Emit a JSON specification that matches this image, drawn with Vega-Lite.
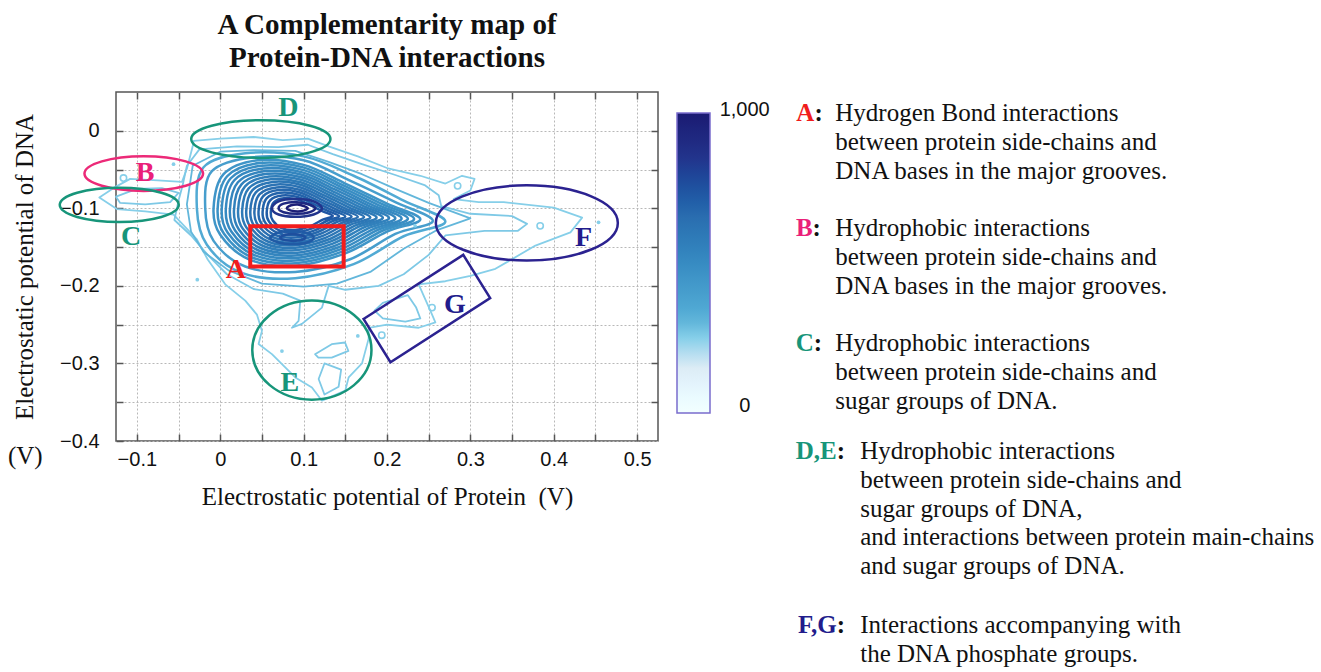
{
  "$schema": "https://vega.github.io/schema/vega-lite/v6.json",
  "width": 542,
  "height": 349,
  "autosize": "none",
  "padding": {"left": 116, "top": 92, "right": 663, "bottom": 231},
  "background": "white",
  "title": {
    "text": ["A Complementarity map of", "Protein-DNA interactions"],
    "font": "Liberation Serif", "fontSize": 29, "fontWeight": "bold", "lineHeight": 33,
    "anchor": "middle", "frame": "group", "offset": 18, "color": "#111"
  },
  "config": {"view": {"stroke": "#555", "strokeWidth": 1.5}},
  "datasets": {
    "outer": [
      {"c":"o1","l":250,"i":0,"x":-0.032,"y":-0.013},
      {"c":"o1","l":250,"i":1,"x":0.0,"y":-0.01},
      {"c":"o1","l":250,"i":2,"x":0.04,"y":-0.008},
      {"c":"o1","l":250,"i":3,"x":0.075,"y":-0.012},
      {"c":"o1","l":250,"i":4,"x":0.105,"y":-0.01},
      {"c":"o1","l":250,"i":5,"x":0.13,"y":-0.02},
      {"c":"o1","l":250,"i":6,"x":0.165,"y":-0.033},
      {"c":"o1","l":250,"i":7,"x":0.2,"y":-0.048},
      {"c":"o1","l":250,"i":8,"x":0.24,"y":-0.058},
      {"c":"o1","l":250,"i":9,"x":0.27,"y":-0.068},
      {"c":"o1","l":250,"i":10,"x":0.29,"y":-0.058},
      {"c":"o1","l":250,"i":11,"x":0.305,"y":-0.062},
      {"c":"o1","l":250,"i":12,"x":0.3,"y":-0.077},
      {"c":"o1","l":250,"i":13,"x":0.28,"y":-0.088},
      {"c":"o1","l":250,"i":14,"x":0.31,"y":-0.092},
      {"c":"o1","l":250,"i":15,"x":0.34,"y":-0.092},
      {"c":"o1","l":250,"i":16,"x":0.4,"y":-0.099},
      {"c":"o1","l":250,"i":17,"x":0.434,"y":-0.112},
      {"c":"o1","l":250,"i":18,"x":0.42,"y":-0.131},
      {"c":"o1","l":250,"i":19,"x":0.378,"y":-0.148},
      {"c":"o1","l":250,"i":20,"x":0.33,"y":-0.178},
      {"c":"o1","l":250,"i":21,"x":0.3,"y":-0.187},
      {"c":"o1","l":250,"i":22,"x":0.27,"y":-0.194},
      {"c":"o1","l":250,"i":23,"x":0.238,"y":-0.198},
      {"c":"o1","l":250,"i":24,"x":0.245,"y":-0.215},
      {"c":"o1","l":250,"i":25,"x":0.252,"y":-0.232},
      {"c":"o1","l":250,"i":26,"x":0.258,"y":-0.247},
      {"c":"o1","l":250,"i":27,"x":0.238,"y":-0.254},
      {"c":"o1","l":250,"i":28,"x":0.2,"y":-0.25},
      {"c":"o1","l":250,"i":29,"x":0.178,"y":-0.254},
      {"c":"o1","l":250,"i":30,"x":0.178,"y":-0.268},
      {"c":"o1","l":250,"i":31,"x":0.17,"y":-0.3},
      {"c":"o1","l":250,"i":32,"x":0.154,"y":-0.318},
      {"c":"o1","l":250,"i":33,"x":0.15,"y":-0.335},
      {"c":"o1","l":250,"i":34,"x":0.122,"y":-0.348},
      {"c":"o1","l":250,"i":35,"x":0.11,"y":-0.331},
      {"c":"o1","l":250,"i":36,"x":0.09,"y":-0.318},
      {"c":"o1","l":250,"i":37,"x":0.062,"y":-0.288},
      {"c":"o1","l":250,"i":38,"x":0.046,"y":-0.275},
      {"c":"o1","l":250,"i":39,"x":0.05,"y":-0.258},
      {"c":"o1","l":250,"i":40,"x":0.044,"y":-0.237},
      {"c":"o1","l":250,"i":41,"x":0.03,"y":-0.219},
      {"c":"o1","l":250,"i":42,"x":0.006,"y":-0.198},
      {"c":"o1","l":250,"i":43,"x":-0.015,"y":-0.166},
      {"c":"o1","l":250,"i":44,"x":-0.028,"y":-0.14},
      {"c":"o1","l":250,"i":45,"x":-0.056,"y":-0.108},
      {"c":"o1","l":250,"i":46,"x":-0.09,"y":-0.104},
      {"c":"o1","l":250,"i":47,"x":-0.124,"y":-0.101},
      {"c":"o1","l":250,"i":48,"x":-0.145,"y":-0.086},
      {"c":"o1","l":250,"i":49,"x":-0.125,"y":-0.072},
      {"c":"o1","l":250,"i":50,"x":-0.108,"y":-0.062},
      {"c":"o1","l":250,"i":51,"x":-0.075,"y":-0.064},
      {"c":"o1","l":250,"i":52,"x":-0.046,"y":-0.066},
      {"c":"o1","l":250,"i":53,"x":-0.04,"y":-0.049},
      {"c":"o1","l":250,"i":54,"x":-0.033,"y":-0.02},
      {"c":"o2","l":262,"i":0,"x":-0.025,"y":-0.024},
      {"c":"o2","l":262,"i":1,"x":0.02,"y":-0.02},
      {"c":"o2","l":262,"i":2,"x":0.07,"y":-0.021},
      {"c":"o2","l":262,"i":3,"x":0.105,"y":-0.018},
      {"c":"o2","l":262,"i":4,"x":0.135,"y":-0.03},
      {"c":"o2","l":262,"i":5,"x":0.17,"y":-0.043},
      {"c":"o2","l":262,"i":6,"x":0.21,"y":-0.057},
      {"c":"o2","l":262,"i":7,"x":0.245,"y":-0.07},
      {"c":"o2","l":262,"i":8,"x":0.262,"y":-0.083},
      {"c":"o2","l":262,"i":9,"x":0.265,"y":-0.097},
      {"c":"o2","l":262,"i":10,"x":0.3,"y":-0.107},
      {"c":"o2","l":262,"i":11,"x":0.35,"y":-0.11},
      {"c":"o2","l":262,"i":12,"x":0.368,"y":-0.12},
      {"c":"o2","l":262,"i":13,"x":0.357,"y":-0.129},
      {"c":"o2","l":262,"i":14,"x":0.317,"y":-0.129},
      {"c":"o2","l":262,"i":15,"x":0.27,"y":-0.135},
      {"c":"o2","l":262,"i":16,"x":0.25,"y":-0.16},
      {"c":"o2","l":262,"i":17,"x":0.22,"y":-0.185},
      {"c":"o2","l":262,"i":18,"x":0.19,"y":-0.2},
      {"c":"o2","l":262,"i":19,"x":0.15,"y":-0.205},
      {"c":"o2","l":262,"i":20,"x":0.13,"y":-0.2},
      {"c":"o2","l":262,"i":21,"x":0.122,"y":-0.228},
      {"c":"o2","l":262,"i":22,"x":0.098,"y":-0.249},
      {"c":"o2","l":262,"i":23,"x":0.086,"y":-0.254},
      {"c":"o2","l":262,"i":24,"x":0.094,"y":-0.245},
      {"c":"o2","l":262,"i":25,"x":0.096,"y":-0.219},
      {"c":"o2","l":262,"i":26,"x":0.075,"y":-0.21},
      {"c":"o2","l":262,"i":27,"x":0.04,"y":-0.204},
      {"c":"o2","l":262,"i":28,"x":0.008,"y":-0.185},
      {"c":"o2","l":262,"i":29,"x":-0.015,"y":-0.16},
      {"c":"o2","l":262,"i":30,"x":-0.035,"y":-0.135},
      {"c":"o2","l":262,"i":31,"x":-0.055,"y":-0.115},
      {"c":"o2","l":262,"i":32,"x":-0.05,"y":-0.09},
      {"c":"o2","l":262,"i":33,"x":-0.045,"y":-0.07},
      {"c":"o2","l":262,"i":34,"x":-0.04,"y":-0.045},
      {"c":"m3","l":300,"i":0,"x":-0.04,"y":-0.095},
      {"c":"m3","l":300,"i":1,"x":-0.033,"y":-0.045},
      {"c":"m3","l":300,"i":2,"x":0.0,"y":-0.027},
      {"c":"m3","l":300,"i":3,"x":0.04,"y":-0.025},
      {"c":"m3","l":300,"i":4,"x":0.09,"y":-0.026},
      {"c":"m3","l":300,"i":5,"x":0.13,"y":-0.04},
      {"c":"m3","l":300,"i":6,"x":0.17,"y":-0.056},
      {"c":"m3","l":300,"i":7,"x":0.21,"y":-0.075},
      {"c":"m3","l":300,"i":8,"x":0.25,"y":-0.093},
      {"c":"m3","l":300,"i":9,"x":0.3,"y":-0.113},
      {"c":"m3","l":300,"i":10,"x":0.26,"y":-0.128},
      {"c":"m3","l":300,"i":11,"x":0.22,"y":-0.152},
      {"c":"m3","l":300,"i":12,"x":0.18,"y":-0.182},
      {"c":"m3","l":300,"i":13,"x":0.14,"y":-0.197},
      {"c":"m3","l":300,"i":14,"x":0.1,"y":-0.201},
      {"c":"m3","l":300,"i":15,"x":0.05,"y":-0.197},
      {"c":"m3","l":300,"i":16,"x":0.01,"y":-0.18},
      {"c":"m3","l":300,"i":17,"x":-0.02,"y":-0.156},
      {"c":"m3","l":300,"i":18,"x":-0.035,"y":-0.13},
      {"c":"eb","l":262,"i":0,"x":0.1137,"y":-0.2881},
      {"c":"eb","l":262,"i":1,"x":0.1337,"y":-0.2752},
      {"c":"eb","l":262,"i":2,"x":0.1497,"y":-0.273},
      {"c":"eb","l":262,"i":3,"x":0.1537,"y":-0.2839},
      {"c":"eb","l":262,"i":4,"x":0.1337,"y":-0.2924},
      {"c":"eb","l":262,"i":5,"x":0.1177,"y":-0.2924},
      {"c":"e2","l":262,"i":0,"x":0.125,"y":-0.3},
      {"c":"e2","l":262,"i":1,"x":0.145,"y":-0.308},
      {"c":"e2","l":262,"i":2,"x":0.142,"y":-0.33},
      {"c":"e2","l":262,"i":3,"x":0.125,"y":-0.34},
      {"c":"e2","l":262,"i":4,"x":0.118,"y":-0.32},
      {"c":"gl","l":262,"i":0,"x":0.195,"y":-0.222},
      {"c":"gl","l":262,"i":1,"x":0.225,"y":-0.212},
      {"c":"gl","l":262,"i":2,"x":0.235,"y":-0.228},
      {"c":"gl","l":262,"i":3,"x":0.24,"y":-0.242},
      {"c":"gl","l":262,"i":4,"x":0.222,"y":-0.246},
      {"c":"gl","l":262,"i":5,"x":0.195,"y":-0.242},
      {"c":"gl","l":262,"i":6,"x":0.185,"y":-0.232},
      {"c":"bc","l":262,"i":0,"x":-0.125,"y":-0.085},
      {"c":"bc","l":262,"i":1,"x":-0.1,"y":-0.075},
      {"c":"bc","l":262,"i":2,"x":-0.07,"y":-0.074},
      {"c":"bc","l":262,"i":3,"x":-0.05,"y":-0.08},
      {"c":"bc","l":262,"i":4,"x":-0.06,"y":-0.092},
      {"c":"bc","l":262,"i":5,"x":-0.09,"y":-0.095},
      {"c":"bc","l":262,"i":6,"x":-0.12,"y":-0.093}
    ],
    "core": [
      {"c":"m2","l":340,"i":0,"x":-0.028,"y":-0.1},
      {"c":"m2","l":340,"i":1,"x":-0.02,"y":-0.047},
      {"c":"m2","l":340,"i":2,"x":0.03,"y":-0.029},
      {"c":"m2","l":340,"i":3,"x":0.1,"y":-0.033},
      {"c":"m2","l":340,"i":4,"x":0.16,"y":-0.058},
      {"c":"m2","l":340,"i":5,"x":0.22,"y":-0.09},
      {"c":"m2","l":340,"i":6,"x":0.27,"y":-0.117},
      {"c":"m2","l":340,"i":7,"x":0.22,"y":-0.136},
      {"c":"m2","l":340,"i":8,"x":0.16,"y":-0.172},
      {"c":"m2","l":340,"i":9,"x":0.09,"y":-0.19},
      {"c":"m2","l":340,"i":10,"x":0.025,"y":-0.183},
      {"c":"m2","l":340,"i":11,"x":-0.016,"y":-0.147},
      {"c":"m1","l":400,"i":0,"x":-0.018,"y":-0.1},
      {"c":"m1","l":400,"i":1,"x":-0.01,"y":-0.052},
      {"c":"m1","l":400,"i":2,"x":0.04,"y":-0.034},
      {"c":"m1","l":400,"i":3,"x":0.1,"y":-0.038},
      {"c":"m1","l":400,"i":4,"x":0.155,"y":-0.064},
      {"c":"m1","l":400,"i":5,"x":0.21,"y":-0.092},
      {"c":"m1","l":400,"i":6,"x":0.255,"y":-0.116},
      {"c":"m1","l":400,"i":7,"x":0.21,"y":-0.133},
      {"c":"m1","l":400,"i":8,"x":0.155,"y":-0.166},
      {"c":"m1","l":400,"i":9,"x":0.09,"y":-0.182},
      {"c":"m1","l":400,"i":10,"x":0.03,"y":-0.175},
      {"c":"m1","l":400,"i":11,"x":-0.008,"y":-0.142},
      {"c":"s100","l":450,"i":0,"x":-0.008,"y":-0.1},
      {"c":"s100","l":450,"i":1,"x":0.004,"y":-0.056},
      {"c":"s100","l":450,"i":2,"x":0.045,"y":-0.038},
      {"c":"s100","l":450,"i":3,"x":0.1,"y":-0.044},
      {"c":"s100","l":450,"i":4,"x":0.15,"y":-0.068},
      {"c":"s100","l":450,"i":5,"x":0.2,"y":-0.094},
      {"c":"s100","l":450,"i":6,"x":0.24,"y":-0.114},
      {"c":"s100","l":450,"i":7,"x":0.2,"y":-0.13},
      {"c":"s100","l":450,"i":8,"x":0.15,"y":-0.158},
      {"c":"s100","l":450,"i":9,"x":0.09,"y":-0.174},
      {"c":"s100","l":450,"i":10,"x":0.035,"y":-0.166},
      {"c":"s100","l":450,"i":11,"x":0.0,"y":-0.134},
      {"c":"s95","l":470,"i":0,"x":-0.0031,"y":-0.1004},
      {"c":"s95","l":470,"i":1,"x":0.0083,"y":-0.0586},
      {"c":"s95","l":470,"i":2,"x":0.0472,"y":-0.0415},
      {"c":"s95","l":470,"i":3,"x":0.0995,"y":-0.0472},
      {"c":"s95","l":470,"i":4,"x":0.147,"y":-0.07},
      {"c":"s95","l":470,"i":5,"x":0.1945,"y":-0.0947},
      {"c":"s95","l":470,"i":6,"x":0.2325,"y":-0.1137},
      {"c":"s95","l":470,"i":7,"x":0.1945,"y":-0.1289},
      {"c":"s95","l":470,"i":8,"x":0.147,"y":-0.1555},
      {"c":"s95","l":470,"i":9,"x":0.09,"y":-0.1707},
      {"c":"s95","l":470,"i":10,"x":0.0377,"y":-0.1631},
      {"c":"s95","l":470,"i":11,"x":0.0045,"y":-0.1327},
      {"c":"s90","l":490,"i":0,"x":0.0018,"y":-0.1008},
      {"c":"s90","l":490,"i":1,"x":0.0126,"y":-0.0612},
      {"c":"s90","l":490,"i":2,"x":0.0495,"y":-0.045},
      {"c":"s90","l":490,"i":3,"x":0.099,"y":-0.0504},
      {"c":"s90","l":490,"i":4,"x":0.144,"y":-0.072},
      {"c":"s90","l":490,"i":5,"x":0.189,"y":-0.0954},
      {"c":"s90","l":490,"i":6,"x":0.225,"y":-0.1134},
      {"c":"s90","l":490,"i":7,"x":0.189,"y":-0.1278},
      {"c":"s90","l":490,"i":8,"x":0.144,"y":-0.153},
      {"c":"s90","l":490,"i":9,"x":0.09,"y":-0.1674},
      {"c":"s90","l":490,"i":10,"x":0.0405,"y":-0.1602},
      {"c":"s90","l":490,"i":11,"x":0.009,"y":-0.1314},
      {"c":"s85","l":510,"i":0,"x":0.0067,"y":-0.1012},
      {"c":"s85","l":510,"i":1,"x":0.0169,"y":-0.0638},
      {"c":"s85","l":510,"i":2,"x":0.0517,"y":-0.0485},
      {"c":"s85","l":510,"i":3,"x":0.0985,"y":-0.0536},
      {"c":"s85","l":510,"i":4,"x":0.141,"y":-0.074},
      {"c":"s85","l":510,"i":5,"x":0.1835,"y":-0.0961},
      {"c":"s85","l":510,"i":6,"x":0.2175,"y":-0.1131},
      {"c":"s85","l":510,"i":7,"x":0.1835,"y":-0.1267},
      {"c":"s85","l":510,"i":8,"x":0.141,"y":-0.1505},
      {"c":"s85","l":510,"i":9,"x":0.09,"y":-0.1641},
      {"c":"s85","l":510,"i":10,"x":0.0432,"y":-0.1573},
      {"c":"s85","l":510,"i":11,"x":0.0135,"y":-0.1301},
      {"c":"s80","l":530,"i":0,"x":0.0116,"y":-0.1016},
      {"c":"s80","l":530,"i":1,"x":0.0212,"y":-0.0664},
      {"c":"s80","l":530,"i":2,"x":0.054,"y":-0.052},
      {"c":"s80","l":530,"i":3,"x":0.098,"y":-0.0568},
      {"c":"s80","l":530,"i":4,"x":0.138,"y":-0.076},
      {"c":"s80","l":530,"i":5,"x":0.178,"y":-0.0968},
      {"c":"s80","l":530,"i":6,"x":0.21,"y":-0.1128},
      {"c":"s80","l":530,"i":7,"x":0.178,"y":-0.1256},
      {"c":"s80","l":530,"i":8,"x":0.138,"y":-0.148},
      {"c":"s80","l":530,"i":9,"x":0.09,"y":-0.1608},
      {"c":"s80","l":530,"i":10,"x":0.046,"y":-0.1544},
      {"c":"s80","l":530,"i":11,"x":0.018,"y":-0.1288},
      {"c":"s75","l":550,"i":0,"x":0.0165,"y":-0.102},
      {"c":"s75","l":550,"i":1,"x":0.0255,"y":-0.069},
      {"c":"s75","l":550,"i":2,"x":0.0562,"y":-0.0555},
      {"c":"s75","l":550,"i":3,"x":0.0975,"y":-0.06},
      {"c":"s75","l":550,"i":4,"x":0.135,"y":-0.078},
      {"c":"s75","l":550,"i":5,"x":0.1725,"y":-0.0975},
      {"c":"s75","l":550,"i":6,"x":0.2025,"y":-0.1125},
      {"c":"s75","l":550,"i":7,"x":0.1725,"y":-0.1245},
      {"c":"s75","l":550,"i":8,"x":0.135,"y":-0.1455},
      {"c":"s75","l":550,"i":9,"x":0.09,"y":-0.1575},
      {"c":"s75","l":550,"i":10,"x":0.0487,"y":-0.1515},
      {"c":"s75","l":550,"i":11,"x":0.0225,"y":-0.1275},
      {"c":"s70","l":570,"i":0,"x":0.0214,"y":-0.1024},
      {"c":"s70","l":570,"i":1,"x":0.0298,"y":-0.0716},
      {"c":"s70","l":570,"i":2,"x":0.0585,"y":-0.059},
      {"c":"s70","l":570,"i":3,"x":0.097,"y":-0.0632},
      {"c":"s70","l":570,"i":4,"x":0.132,"y":-0.08},
      {"c":"s70","l":570,"i":5,"x":0.167,"y":-0.0982},
      {"c":"s70","l":570,"i":6,"x":0.195,"y":-0.1122},
      {"c":"s70","l":570,"i":7,"x":0.167,"y":-0.1234},
      {"c":"s70","l":570,"i":8,"x":0.132,"y":-0.143},
      {"c":"s70","l":570,"i":9,"x":0.09,"y":-0.1542},
      {"c":"s70","l":570,"i":10,"x":0.0515,"y":-0.1486},
      {"c":"s70","l":570,"i":11,"x":0.027,"y":-0.1262},
      {"c":"s65","l":590,"i":0,"x":0.0263,"y":-0.1028},
      {"c":"s65","l":590,"i":1,"x":0.0341,"y":-0.0742},
      {"c":"s65","l":590,"i":2,"x":0.0607,"y":-0.0625},
      {"c":"s65","l":590,"i":3,"x":0.0965,"y":-0.0664},
      {"c":"s65","l":590,"i":4,"x":0.129,"y":-0.082},
      {"c":"s65","l":590,"i":5,"x":0.1615,"y":-0.0989},
      {"c":"s65","l":590,"i":6,"x":0.1875,"y":-0.1119},
      {"c":"s65","l":590,"i":7,"x":0.1615,"y":-0.1223},
      {"c":"s65","l":590,"i":8,"x":0.129,"y":-0.1405},
      {"c":"s65","l":590,"i":9,"x":0.09,"y":-0.1509},
      {"c":"s65","l":590,"i":10,"x":0.0542,"y":-0.1457},
      {"c":"s65","l":590,"i":11,"x":0.0315,"y":-0.1249},
      {"c":"s60","l":610,"i":0,"x":0.0312,"y":-0.1032},
      {"c":"s60","l":610,"i":1,"x":0.0384,"y":-0.0768},
      {"c":"s60","l":610,"i":2,"x":0.063,"y":-0.066},
      {"c":"s60","l":610,"i":3,"x":0.096,"y":-0.0696},
      {"c":"s60","l":610,"i":4,"x":0.126,"y":-0.084},
      {"c":"s60","l":610,"i":5,"x":0.156,"y":-0.0996},
      {"c":"s60","l":610,"i":6,"x":0.18,"y":-0.1116},
      {"c":"s60","l":610,"i":7,"x":0.156,"y":-0.1212},
      {"c":"s60","l":610,"i":8,"x":0.126,"y":-0.138},
      {"c":"s60","l":610,"i":9,"x":0.09,"y":-0.1476},
      {"c":"s60","l":610,"i":10,"x":0.057,"y":-0.1428},
      {"c":"s60","l":610,"i":11,"x":0.036,"y":-0.1236},
      {"c":"s55","l":630,"i":0,"x":0.0361,"y":-0.1036},
      {"c":"s55","l":630,"i":1,"x":0.0427,"y":-0.0794},
      {"c":"s55","l":630,"i":2,"x":0.0652,"y":-0.0695},
      {"c":"s55","l":630,"i":3,"x":0.0955,"y":-0.0728},
      {"c":"s55","l":630,"i":4,"x":0.123,"y":-0.086},
      {"c":"s55","l":630,"i":5,"x":0.1505,"y":-0.1003},
      {"c":"s55","l":630,"i":6,"x":0.1725,"y":-0.1113},
      {"c":"s55","l":630,"i":7,"x":0.1505,"y":-0.1201},
      {"c":"s55","l":630,"i":8,"x":0.123,"y":-0.1355},
      {"c":"s55","l":630,"i":9,"x":0.09,"y":-0.1443},
      {"c":"s55","l":630,"i":10,"x":0.0597,"y":-0.1399},
      {"c":"s55","l":630,"i":11,"x":0.0405,"y":-0.1223},
      {"c":"s50","l":650,"i":0,"x":0.041,"y":-0.104},
      {"c":"s50","l":650,"i":1,"x":0.047,"y":-0.082},
      {"c":"s50","l":650,"i":2,"x":0.0675,"y":-0.073},
      {"c":"s50","l":650,"i":3,"x":0.095,"y":-0.076},
      {"c":"s50","l":650,"i":4,"x":0.12,"y":-0.088},
      {"c":"s50","l":650,"i":5,"x":0.145,"y":-0.101},
      {"c":"s50","l":650,"i":6,"x":0.165,"y":-0.111},
      {"c":"s50","l":650,"i":7,"x":0.145,"y":-0.119},
      {"c":"s50","l":650,"i":8,"x":0.12,"y":-0.133},
      {"c":"s50","l":650,"i":9,"x":0.09,"y":-0.141},
      {"c":"s50","l":650,"i":10,"x":0.0625,"y":-0.137},
      {"c":"s50","l":650,"i":11,"x":0.045,"y":-0.121},
      {"c":"s45","l":670,"i":0,"x":0.0459,"y":-0.1044},
      {"c":"s45","l":670,"i":1,"x":0.0513,"y":-0.0846},
      {"c":"s45","l":670,"i":2,"x":0.0697,"y":-0.0765},
      {"c":"s45","l":670,"i":3,"x":0.0945,"y":-0.0792},
      {"c":"s45","l":670,"i":4,"x":0.117,"y":-0.09},
      {"c":"s45","l":670,"i":5,"x":0.1395,"y":-0.1017},
      {"c":"s45","l":670,"i":6,"x":0.1575,"y":-0.1107},
      {"c":"s45","l":670,"i":7,"x":0.1395,"y":-0.1179},
      {"c":"s45","l":670,"i":8,"x":0.117,"y":-0.1305},
      {"c":"s45","l":670,"i":9,"x":0.09,"y":-0.1377},
      {"c":"s45","l":670,"i":10,"x":0.0652,"y":-0.1341},
      {"c":"s45","l":670,"i":11,"x":0.0495,"y":-0.1197},
      {"c":"s40","l":690,"i":0,"x":0.0508,"y":-0.1048},
      {"c":"s40","l":690,"i":1,"x":0.0556,"y":-0.0872},
      {"c":"s40","l":690,"i":2,"x":0.072,"y":-0.08},
      {"c":"s40","l":690,"i":3,"x":0.094,"y":-0.0824},
      {"c":"s40","l":690,"i":4,"x":0.114,"y":-0.092},
      {"c":"s40","l":690,"i":5,"x":0.134,"y":-0.1024},
      {"c":"s40","l":690,"i":6,"x":0.15,"y":-0.1104},
      {"c":"s40","l":690,"i":7,"x":0.134,"y":-0.1168},
      {"c":"s40","l":690,"i":8,"x":0.114,"y":-0.128},
      {"c":"s40","l":690,"i":9,"x":0.09,"y":-0.1344},
      {"c":"s40","l":690,"i":10,"x":0.068,"y":-0.1312},
      {"c":"s40","l":690,"i":11,"x":0.054,"y":-0.1184},
      {"c":"s35","l":710,"i":0,"x":0.0557,"y":-0.1052},
      {"c":"s35","l":710,"i":1,"x":0.0599,"y":-0.0898},
      {"c":"s35","l":710,"i":2,"x":0.0742,"y":-0.0835},
      {"c":"s35","l":710,"i":3,"x":0.0935,"y":-0.0856},
      {"c":"s35","l":710,"i":4,"x":0.111,"y":-0.094},
      {"c":"s35","l":710,"i":5,"x":0.1285,"y":-0.1031},
      {"c":"s35","l":710,"i":6,"x":0.1425,"y":-0.1101},
      {"c":"s35","l":710,"i":7,"x":0.1285,"y":-0.1157},
      {"c":"s35","l":710,"i":8,"x":0.111,"y":-0.1255},
      {"c":"s35","l":710,"i":9,"x":0.09,"y":-0.1311},
      {"c":"s35","l":710,"i":10,"x":0.0707,"y":-0.1283},
      {"c":"s35","l":710,"i":11,"x":0.0585,"y":-0.1171},
      {"c":"s30","l":730,"i":0,"x":0.0606,"y":-0.1056},
      {"c":"s30","l":730,"i":1,"x":0.0642,"y":-0.0924},
      {"c":"s30","l":730,"i":2,"x":0.0765,"y":-0.087},
      {"c":"s30","l":730,"i":3,"x":0.093,"y":-0.0888},
      {"c":"s30","l":730,"i":4,"x":0.108,"y":-0.096},
      {"c":"s30","l":730,"i":5,"x":0.123,"y":-0.1038},
      {"c":"s30","l":730,"i":6,"x":0.135,"y":-0.1098},
      {"c":"s30","l":730,"i":7,"x":0.123,"y":-0.1146},
      {"c":"s30","l":730,"i":8,"x":0.108,"y":-0.123},
      {"c":"s30","l":730,"i":9,"x":0.09,"y":-0.1278},
      {"c":"s30","l":730,"i":10,"x":0.0735,"y":-0.1254},
      {"c":"s30","l":730,"i":11,"x":0.063,"y":-0.1158},
      {"c":"l1","l":720,"i":0,"x":0.06,"y":-0.138},
      {"c":"l1","l":720,"i":1,"x":0.07,"y":-0.131},
      {"c":"l1","l":720,"i":2,"x":0.088,"y":-0.129},
      {"c":"l1","l":720,"i":3,"x":0.105,"y":-0.132},
      {"c":"l1","l":720,"i":4,"x":0.112,"y":-0.138},
      {"c":"l1","l":720,"i":5,"x":0.104,"y":-0.144},
      {"c":"l1","l":720,"i":6,"x":0.088,"y":-0.146},
      {"c":"l1","l":720,"i":7,"x":0.07,"y":-0.144},
      {"c":"l2","l":760,"i":0,"x":0.072,"y":-0.138},
      {"c":"l2","l":760,"i":1,"x":0.078,"y":-0.134},
      {"c":"l2","l":760,"i":2,"x":0.088,"y":-0.133},
      {"c":"l2","l":760,"i":3,"x":0.098,"y":-0.135},
      {"c":"l2","l":760,"i":4,"x":0.102,"y":-0.138},
      {"c":"l2","l":760,"i":5,"x":0.097,"y":-0.141},
      {"c":"l2","l":760,"i":6,"x":0.088,"y":-0.142},
      {"c":"l2","l":760,"i":7,"x":0.078,"y":-0.141},
      {"c":"n1","l":850,"i":0,"x":0.062,"y":-0.1},
      {"c":"n1","l":850,"i":1,"x":0.07,"y":-0.091},
      {"c":"n1","l":850,"i":2,"x":0.09,"y":-0.088},
      {"c":"n1","l":850,"i":3,"x":0.112,"y":-0.091},
      {"c":"n1","l":850,"i":4,"x":0.122,"y":-0.1},
      {"c":"n1","l":850,"i":5,"x":0.112,"y":-0.108},
      {"c":"n1","l":850,"i":6,"x":0.09,"y":-0.111},
      {"c":"n1","l":850,"i":7,"x":0.07,"y":-0.108},
      {"c":"n2","l":920,"i":0,"x":0.07,"y":-0.1},
      {"c":"n2","l":920,"i":1,"x":0.076,"y":-0.094},
      {"c":"n2","l":920,"i":2,"x":0.092,"y":-0.092},
      {"c":"n2","l":920,"i":3,"x":0.107,"y":-0.095},
      {"c":"n2","l":920,"i":4,"x":0.114,"y":-0.1},
      {"c":"n2","l":920,"i":5,"x":0.107,"y":-0.105},
      {"c":"n2","l":920,"i":6,"x":0.092,"y":-0.107},
      {"c":"n2","l":920,"i":7,"x":0.076,"y":-0.105},
      {"c":"n3","l":980,"i":0,"x":0.08,"y":-0.1},
      {"c":"n3","l":980,"i":1,"x":0.085,"y":-0.096},
      {"c":"n3","l":980,"i":2,"x":0.093,"y":-0.095},
      {"c":"n3","l":980,"i":3,"x":0.1,"y":-0.097},
      {"c":"n3","l":980,"i":4,"x":0.105,"y":-0.1},
      {"c":"n3","l":980,"i":5,"x":0.1,"y":-0.103},
      {"c":"n3","l":980,"i":6,"x":0.093,"y":-0.104},
      {"c":"n3","l":980,"i":7,"x":0.085,"y":-0.103}
    ],
    "rings": [
      {"x":-0.116,"y":-0.061},
      {"x":0.2847,"y":-0.071},
      {"x":0.3837,"y":-0.1226},
      {"x":0.1937,"y":-0.2636},
      {"x":0.254,"y":-0.228}
    ],
    "dots": [
      {"x":-0.056,"y":-0.043},
      {"x":-0.0275,"y":-0.192},
      {"x":0.4537,"y":-0.118},
      {"x":0.165,"y":-0.2645},
      {"x":0.074,"y":-0.284},
      {"x":0.2337,"y":-0.1226}
    ],
    "shapes": [
      {"k":"B","x":-0.0917,"y":-0.0552},
      {"k":"C","x":-0.1211,"y":-0.0955},
      {"k":"D","x":0.0487,"y":-0.0107},
      {"k":"E","x":0.1099,"y":-0.2827},
      {"k":"F","x":0.3677,"y":-0.1188},
      {"k":"G","x":0.2478,"y":-0.2292}
    ],
    "boxes": [
      {"k":"A","x":0.036,"x2":0.148,"y":-0.123,"y2":-0.175}
    ],
    "labels": [
      {"t":"A","g":"A","x":0.0188,"y":-0.1903},
      {"t":"B","g":"B","x":-0.0902,"y":-0.0645},
      {"t":"C","g":"C","x":-0.1068,"y":-0.1473},
      {"t":"D","g":"D","x":0.0817,"y":0.0194},
      {"t":"E","g":"E","x":0.0834,"y":-0.3355},
      {"t":"F","g":"F","x":0.4357,"y":-0.1484},
      {"t":"G","g":"G","x":0.2813,"y":-0.2356}
    ],
    "keys": [
      {"t":"A","g":"A","x":0.7126,"y":0.0129},
      {"t":"B","g":"B","x":0.7104,"y":-0.1355},
      {"t":"C","g":"C","x":0.7118,"y":-0.2839},
      {"t":"D,E","g":"D","x":0.7394,"y":-0.4227},
      {"t":"F,G","g":"F","x":0.7394,"y":-0.6472}
    ],
    "cbar": [
      {"t":"1,000","x":0.629,"y":0.0267},
      {"t":"0","x":0.629,"y":-0.3552}
    ],
    "notes": [
      {"t":"Hydrogen Bond interactions","x":0.7376,"y":0.0129},
      {"t":"between protein side-chains and","x":0.7376,"y":-0.0249},
      {"t":"DNA bases in the major grooves.","x":0.7376,"y":-0.0623},
      {"t":"Hydrophobic interactions","x":0.7376,"y":-0.1355},
      {"t":"between protein side-chains and","x":0.7376,"y":-0.1733},
      {"t":"DNA bases in the major grooves.","x":0.7376,"y":-0.2107},
      {"t":"Hydrophobic interactions","x":0.7376,"y":-0.2839},
      {"t":"between protein side-chains and","x":0.7376,"y":-0.3217},
      {"t":"sugar groups of DNA.","x":0.7376,"y":-0.3591},
      {"t":"Hydrophobic interactions","x":0.7675,"y":-0.4227},
      {"t":"between protein side-chains and","x":0.7675,"y":-0.4601},
      {"t":"sugar groups of DNA,","x":0.7675,"y":-0.4975},
      {"t":"and interactions between protein main-chains","x":0.7675,"y":-0.5346},
      {"t":"and sugar groups of DNA.","x":0.7675,"y":-0.572},
      {"t":"Interactions accompanying with","x":0.7675,"y":-0.6472},
      {"t":"the DNA phosphate groups.","x":0.7675,"y":-0.6846},
      {"t":"(V)","x":-0.2546,"y":-0.43}
    ]
  },
  "encoding": {
    "x": {"field": "x", "type": "quantitative", "scale": {"domain": [-0.125, 0.525], "nice": false, "zero": false}, "axis": null},
    "y": {"field": "y", "type": "quantitative", "scale": {"domain": [-0.4, 0.05], "nice": false, "zero": false}, "axis": null}
  },
  "resolve": {"axis": {"x": "independent", "y": "independent"}},
  "layer": [
    {
      "data": {"name": "outer"},
      "mark": {"type": "line", "interpolate": "linear-closed", "strokeWidth": 1.8, "strokeJoin": "round"},
      "encoding": {
        "x": {"field": "x", "type": "quantitative", "scale": {"domain": [-0.125, 0.525], "nice": false, "zero": false},
          "axis": {
            "orient": "bottom",
            "values": [-0.1,-0.05,0,0.05,0.1,0.15,0.2,0.25,0.3,0.35,0.4,0.45,0.5],
            "labelExpr": "abs(datum.value*10-round(datum.value*10))<0.001 ? (abs(datum.value)<0.001 ? '0' : format(datum.value,'.1f')) : ''",
            "labelFont": "Liberation Sans", "labelFontSize": 20, "labelColor": "#111",
            "labelPadding": 15, "labelOverlap": false, "labelFlush": false,
            "tickSize": -7, "tickColor": "#555", "tickWidth": 1.5,
            "grid": true, "gridColor": "#b8b8b8", "gridDash": [2,2], "gridWidth": 1,
            "domain": false,
            "title": "Electrostatic potential of Protein\u00a0 (V)",
            "titleFont": "Liberation Serif", "titleFontSize": 25, "titleFontWeight": "normal", "titleColor": "#111",
            "titleBaseline": "alphabetic", "titleY": 63
          }
        },
        "y": {"field": "y", "type": "quantitative", "scale": {"domain": [-0.4, 0.05], "nice": false, "zero": false},
          "axis": {
            "orient": "left",
            "values": [-0.4,-0.35,-0.3,-0.25,-0.2,-0.15,-0.1,-0.05,0],
            "labelExpr": "abs(datum.value*10-round(datum.value*10))<0.001 ? (abs(datum.value)<0.001 ? '0' : format(datum.value,'.1f')) : ''",
            "labelFont": "Liberation Sans", "labelFontSize": 20, "labelColor": "#111",
            "labelPadding": 24, "labelOverlap": false, "labelFlush": false,
            "tickSize": -7, "tickColor": "#555", "tickWidth": 1.5,
            "grid": true, "gridColor": "#b8b8b8", "gridDash": [2,2], "gridWidth": 1,
            "domain": false,
            "title": "Electrostatic potential of DNA",
            "titleFont": "Liberation Serif", "titleFontSize": 25, "titleFontWeight": "normal", "titleColor": "#111",
            "titleAngle": 270, "titleBaseline": "alphabetic", "titleAlign": "center", "titleX": -84, "titleY": 174.5
          }
        },
        "detail": {"field": "c"},
        "order": {"field": "i", "type": "quantitative"},
        "stroke": {"field": "l", "type": "quantitative",
          "scale": {"domain": [0,150,250,320,480,650,850,1000], "range": ["#ffffff","#dcecf5","#86cfe9","#55aed6","#3a8fc4","#2a6eb0","#22348c","#1b1a72"]},
          "legend": {"orient": "none", "legendX": 561, "legendY": 21, "direction": "vertical", "gradientLength": 300, "gradientThickness": 33, "gradientStrokeColor": "#7a6ccd", "gradientStrokeWidth": 1.5, "values": [0, 1000], "labelExpr": "''", "title": null}
        }
      }
    },
    {
      "data": {"name": "core"},
      "mark": {"type": "line", "interpolate": "cardinal-closed", "strokeWidth": 2.5},
      "encoding": {
        "detail": {"field": "c"},
        "order": {"field": "i", "type": "quantitative"},
        "stroke": {"field": "l", "type": "quantitative",
          "scale": {"domain": [0,150,250,320,480,650,850,1000], "range": ["#ffffff","#dcecf5","#86cfe9","#55aed6","#3a8fc4","#2a6eb0","#22348c","#1b1a72"]},
          "legend": {"orient": "none", "legendX": 561, "legendY": 21, "direction": "vertical", "gradientLength": 300, "gradientThickness": 33, "gradientStrokeColor": "#7a6ccd", "gradientStrokeWidth": 1.5, "values": [0, 1000], "labelExpr": "''", "title": null}
        }
      }
    },
    {
      "data": {"name": "rings"},
      "mark": {"type": "point", "shape": "circle", "filled": false, "color": "#86cfe9", "size": 40, "strokeWidth": 1.6, "opacity": 1}
    },
    {
      "data": {"name": "dots"},
      "mark": {"type": "point", "shape": "circle", "filled": true, "color": "#86cfe9", "size": 14, "opacity": 1}
    },
    {
      "data": {"name": "dots"},
      "mark": {"type": "point", "opacity": 0},
      "encoding": {
        "x": {"field": "x", "type": "quantitative", "scale": {"domain": [-0.125, 0.525], "nice": false, "zero": false},
          "axis": {"orient": "top", "values": [-0.1,-0.05,0,0.05,0.1,0.15,0.2,0.25,0.3,0.35,0.4,0.45,0.5], "labels": false, "grid": false, "domain": false, "tickSize": -7, "tickColor": "#555", "tickWidth": 1.5, "title": null}},
        "y": {"field": "y", "type": "quantitative", "scale": {"domain": [-0.4, 0.05], "nice": false, "zero": false},
          "axis": {"orient": "right", "values": [-0.35,-0.3,-0.25,-0.2,-0.15,-0.1,-0.05,0], "labels": false, "grid": false, "domain": false, "tickSize": -7, "tickColor": "#555", "tickWidth": 1.5, "title": null}}
      }
    },
    {
      "data": {"name": "boxes"},
      "mark": {"type": "rect", "filled": false, "color": "#f21c1c", "strokeWidth": 4},
      "encoding": {
        "x2": {"field": "x2"},
        "y2": {"field": "y2"}
      }
    },
    {
      "data": {"name": "shapes"},
      "transform": [{"filter": "datum.k == 'B'"}],
      "mark": {"type": "point", "shape": "M-59.3 0A59.3 17.3 0 1 1 59.3 0A59.3 17.3 0 1 1 -59.3 0Z", "size": 4, "filled": false, "color": "#ec2a78", "strokeWidth": 2.5, "opacity": 1}
    },
    {
      "data": {"name": "shapes"},
      "transform": [{"filter": "datum.k == 'C'"}],
      "mark": {"type": "point", "shape": "M-59.5 0A59.5 17.2 0 1 1 59.5 0A59.5 17.2 0 1 1 -59.5 0Z", "size": 4, "filled": false, "color": "#17957a", "strokeWidth": 2.5, "opacity": 1}
    },
    {
      "data": {"name": "shapes"},
      "transform": [{"filter": "datum.k == 'D'"}],
      "mark": {"type": "point", "shape": "M-69.6 0A69.6 18.8 0 1 1 69.6 0A69.6 18.8 0 1 1 -69.6 0Z", "size": 4, "filled": false, "color": "#17957a", "strokeWidth": 2.5, "opacity": 1}
    },
    {
      "data": {"name": "shapes"},
      "transform": [{"filter": "datum.k == 'E'"}],
      "mark": {"type": "point", "shape": "M-59.6 0A59.6 49.6 0 1 1 59.6 0A59.6 49.6 0 1 1 -59.6 0Z", "size": 4, "filled": false, "color": "#17957a", "strokeWidth": 2.5, "opacity": 1}
    },
    {
      "data": {"name": "shapes"},
      "transform": [{"filter": "datum.k == 'F'"}],
      "mark": {"type": "point", "shape": "M-91 0A91 37.6 0 1 1 91 0A91 37.6 0 1 1 -91 0Z", "size": 4, "filled": false, "color": "#2b2290", "strokeWidth": 2.5, "opacity": 1}
    },
    {
      "data": {"name": "shapes"},
      "transform": [{"filter": "datum.k == 'G'"}],
      "mark": {"type": "point", "shape": "M-63.3 10.4L36.4 -53.7L63.3 -10.4L-36.4 53.7Z", "size": 4, "filled": false, "color": "#2b2290", "strokeWidth": 2.5, "opacity": 1}
    },
    {
      "data": {"name": "labels"},
      "mark": {"type": "text", "font": "Liberation Serif", "fontSize": 28, "fontWeight": "bold", "align": "center", "baseline": "alphabetic"},
      "encoding": {
        "text": {"field": "t"},
        "fill": {"field": "g", "type": "nominal", "legend": null,
          "scale": {"domain": ["A","B","C","D","E","F","G"], "range": ["#f01c1c","#ea2079","#17957a","#17957a","#17957a","#221c8c","#221c8c"]}}
      }
    },
    {
      "data": {"name": "keys"},
      "mark": {"type": "text", "font": "Liberation Serif", "fontSize": 25, "fontWeight": "bold", "align": "right", "baseline": "alphabetic"},
      "encoding": {
        "text": {"field": "t"},
        "fill": {"field": "g", "type": "nominal", "legend": null,
          "scale": {"domain": ["A","B","C","D","E","F","G"], "range": ["#f01c1c","#ea2079","#17957a","#17957a","#17957a","#221c8c","#221c8c"]}}
      }
    },
    {
      "data": {"name": "keys"},
      "mark": {"type": "text", "text": ":", "font": "Liberation Serif", "fontSize": 25, "fontWeight": "bold", "align": "left", "baseline": "alphabetic", "color": "#111"}
    },
    {
      "data": {"name": "cbar"},
      "mark": {"type": "text", "font": "Liberation Sans", "fontSize": 20, "align": "center", "baseline": "middle", "color": "#111"},
      "encoding": {"text": {"field": "t"}}
    },
    {
      "data": {"name": "notes"},
      "mark": {"type": "text", "font": "Liberation Serif", "fontSize": 25, "align": "left", "baseline": "alphabetic", "color": "#111"},
      "encoding": {"text": {"field": "t"}}
    }
  ]
}
